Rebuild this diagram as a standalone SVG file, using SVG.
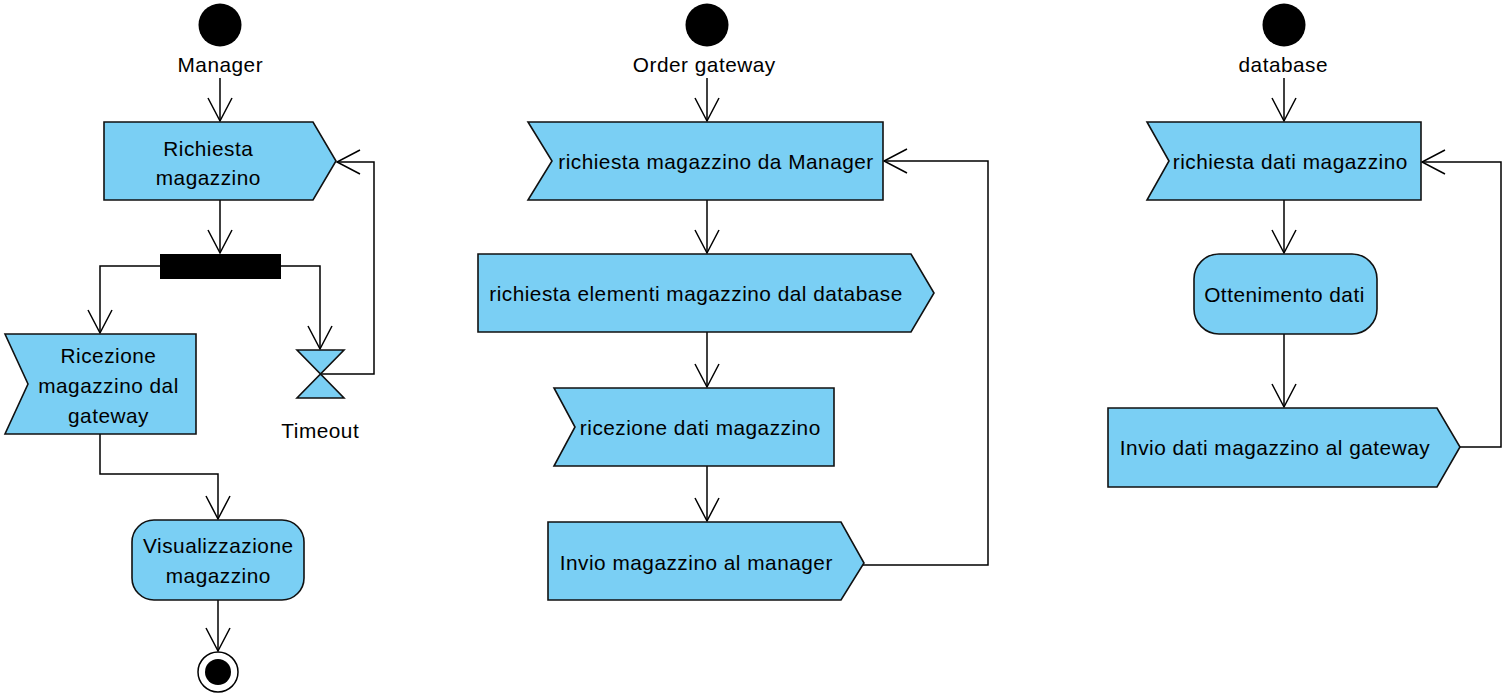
<svg xmlns="http://www.w3.org/2000/svg" width="1508" height="700" viewBox="0 0 1508 700">
<style>
.act{fill:#7ACFF4;stroke:#111;stroke-width:1.6}
.init{fill:#000}
.t{font-family:"Liberation Sans",Arial,sans-serif;font-size:20.8px;letter-spacing:0.5px;fill:#000;text-anchor:middle}
.c{fill:none;stroke:#000;stroke-width:1.5;marker-end:url(#arr)}
</style>
<defs>
<marker id="arr" markerUnits="userSpaceOnUse" viewBox="-25 -14 27 28" refX="0" refY="0" markerWidth="27" markerHeight="28" orient="auto">
<path d="M-23,-12 L0,0 L-23,12" fill="none" stroke="#000" stroke-width="1.5"/>
</marker>
</defs>
<rect width="1508" height="700" fill="#fff"/>
<g id="connectors">
<path class="c" d="M220,78 V121"/>
<path class="c" d="M220,200 V253"/>
<path class="c" d="M160,266 H100 V333"/>
<path class="c" d="M281,266 H320 V349"/>
<path class="c" d="M320,374 H374 V162 H337"/>
<path class="c" d="M100,434 V474 H218 V519"/>
<path class="c" d="M218,600 V651"/>
<path class="c" d="M707,78 V121"/>
<path class="c" d="M707,200 V253"/>
<path class="c" d="M707,332 V387"/>
<path class="c" d="M707,466 V521"/>
<path class="c" d="M863,565 H988 V161 H884"/>
<path class="c" d="M1284,78 V121"/>
<path class="c" d="M1284,200 V253"/>
<path class="c" d="M1284,334 V407"/>
<path class="c" d="M1460,447 H1501 V162 H1422"/>
</g>
<g id="start_manager"><circle class="init" cx="220" cy="25" r="21.5"/><text class="t" x="220.3" y="72">Manager</text></g>
<g id="richiesta_magazzino"><polygon class="act" points="104,122 313,122 336,161 313,200 104,200"/><text class="t" x="208.3" y="156">Richiesta</text><text class="t" x="208.3" y="185">magazzino</text></g>
<g id="fork"><rect x="160" y="254" width="121" height="25" fill="#000"/></g>
<g id="timeout"><path class="act" d="M297,350 H344 L297,398 H344 Z"/><text class="t" x="320.3" y="438">Timeout</text></g>
<g id="ricezione_magazzino"><polygon class="act" points="5,334 196,334 196,434 5,434 28,384"/><text class="t" x="108.5" y="363">Ricezione</text><text class="t" x="108.5" y="393">magazzino dal</text><text class="t" x="108.5" y="423">gateway</text></g>
<g id="visualizzazione"><rect class="act" x="132" y="520" width="172" height="80" rx="22"/><text class="t" x="218.3" y="553">Visualizzazione</text><text class="t" x="218.3" y="583">magazzino</text></g>
<g id="end_manager"><circle cx="218" cy="672" r="20" fill="#fff" stroke="#000" stroke-width="1.5"/><circle cx="218" cy="672" r="13" fill="#000"/></g>

<g id="start_gateway"><circle class="init" cx="707" cy="25" r="21.5"/><text class="t" x="704.3" y="72">Order gateway</text></g>
<g id="richiesta_da_manager"><polygon class="act" points="528,122 883,122 883,200 528,200 552,161"/><text class="t" x="716" y="169">richiesta magazzino da Manager</text></g>
<g id="richiesta_elementi"><polygon class="act" points="478,254 911,254 934,293 911,332 478,332"/><text class="t" x="696" y="301">richiesta elementi magazzino dal database</text></g>
<g id="ricezione_dati"><polygon class="act" points="554,388 834,388 834,466 554,466 575,427"/><text class="t" x="700.3" y="435">ricezione dati magazzino</text></g>
<g id="invio_manager"><polygon class="act" points="548,522 841,522 864,563 841,600 548,600"/><text class="t" x="696.3" y="570">Invio magazzino al manager</text></g>

<g id="start_database"><circle class="init" cx="1284" cy="25" r="21.5"/><text class="t" x="1283.3" y="72">database</text></g>
<g id="richiesta_dati"><polygon class="act" points="1147,122 1421,122 1421,200 1147,200 1169,161"/><text class="t" x="1290.3" y="169">richiesta dati magazzino</text></g>
<g id="ottenimento_dati"><rect class="act" x="1194" y="254" width="183" height="80" rx="25"/><text class="t" x="1284.5" y="302">Ottenimento dati</text></g>
<g id="invio_gateway"><polygon class="act" points="1108,408 1437,408 1460,447 1437,487 1108,487"/><text class="t" x="1275" y="455">Invio dati magazzino al gateway</text></g>
</svg>
